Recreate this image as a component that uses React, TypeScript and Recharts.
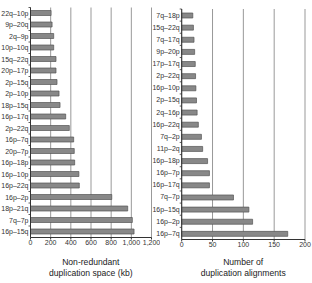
import React from 'react';
import { BarChart, Bar, XAxis, YAxis, CartesianGrid } from 'recharts';

const spaceCategories = [
  '22q–10p', '9p–20q', '2q–9p', '10p–10q', '15q–22q', '20p–17p', '2p–15q', '2p–10p',
  '18p–15q', '16p–17q', '2p–22q', '16p–7q', '20p–7p', '16p–18p', '16p–10p', '16p–22q',
  '16p–2p', '18p–21q', '7q–7p', '16p–15q',
];
const spaceValues = [
  204, 214, 230, 230, 253, 253, 263, 283, 293, 349, 385, 428, 434, 438, 480, 484, 806, 964, 1010, 1027,
];
const spaceTicks = [0, 200, 400, 600, 800, 1000, 1200];

const alignCategories = [
  '7q–18p', '15q–22q', '7q–17q', '9p–20p', '17p–17q', '2p–22q', '16p–10p', '2p–15q', '2q–16p',
  '16p–22q', '7q–2p', '11p–2q', '16p–18p', '16p–7p', '16p–17q', '7q–7p', '16p–15q', '16p–2p', '16p–7q',
];
const alignValues = [18, 19, 20, 21, 22, 22.5, 23, 24, 25, 27, 32, 34, 42, 45, 45, 84, 109, 115, 172];
const alignTicks = [0, 50, 100, 150, 200];

const spaceData = spaceCategories.map((name, i) => ({ name, value: spaceValues[i] }));
const alignData = alignCategories.map((name, i) => ({ name, value: alignValues[i] }));

const FONT = '"Liberation Sans", Arial, sans-serif';
const tickStyle = { fontSize: 7, fill: '#333', fontFamily: FONT };
const fmt = (v: number) => v.toLocaleString('en-US');

const CatTick = (props: any) => {
  const { x, y, payload } = props;
  const off = payload && typeof payload.offset === 'number' ? payload.offset : 5.75;
  const ax = x + 2;
  return (
    <g>
      <line x1={ax - 2} x2={ax} y1={y - off} y2={y - off} stroke="#333" strokeWidth={0.8} />
      <text x={x} y={y} dy="0.35em" textAnchor="end" fontSize={7} fill="#333" fontFamily={FONT}>
        {payload.value}
      </text>
    </g>
  );
};

export default function App() {
  return (
    <div style={{ position: 'absolute', left: 0, top: 0, width: 312, height: 283, background: '#fff' }}>
      <div style={{ position: 'absolute', left: 0, top: 0 }}>
        <BarChart
          width={160}
          height={250}
          layout="vertical"
          data={spaceData}
          margin={{ top: 7.5, right: 8.5, left: 0, bottom: 0 }}
        >
          <CartesianGrid horizontal={false} stroke="#999" strokeWidth={1} />
          <XAxis
            type="number"
            domain={[0, 1200]}
            ticks={spaceTicks}
            tickFormatter={fmt}
            height={12.5}
            tick={tickStyle}
            tickSize={2}
            tickMargin={1}
            stroke="#333"
            interval={0}
          />
          <YAxis
            type="category"
            dataKey="name"
            width={30.5}
            tick={<CatTick />}
            tickLine={false}
            tickSize={0}
            tickMargin={2}
            stroke="#333"
            interval={0}
          />
          <Bar dataKey="value" fill="#888" stroke="#555" strokeWidth={0.7} barSize={5} isAnimationActive={false} />
        </BarChart>
      </div>
      <div style={{ position: 'absolute', left: 152, top: 0 }}>
        <BarChart
          width={160}
          height={252}
          layout="vertical"
          data={alignData}
          margin={{ top: 9, right: 7, left: 0, bottom: 0 }}
        >
          <CartesianGrid horizontal={false} stroke="#999" strokeWidth={1} />
          <XAxis
            type="number"
            domain={[0, 200]}
            ticks={alignTicks}
            height={12.5}
            tick={tickStyle}
            tickSize={2}
            tickMargin={1}
            stroke="#333"
            interval={0}
          />
          <YAxis
            type="category"
            dataKey="name"
            width={29.7}
            tick={<CatTick />}
            tickLine={false}
            tickSize={0}
            tickMargin={2}
            stroke="#333"
            interval={0}
          />
          <Bar dataKey="value" fill="#888" stroke="#555" strokeWidth={0.7} barSize={5} isAnimationActive={false} />
        </BarChart>
      </div>
      <svg
        width={312}
        height={283}
        style={{ position: 'absolute', left: 0, top: 0, pointerEvents: 'none' }}
      >
        <g fontFamily={FONT} fontSize={8.6} fill="#222" textAnchor="middle">
          <text x={90.8} y={265.3}>Non-redundant</text>
          <text x={90.8} y={276.3}>duplication space (kb)</text>
          <text x={243.2} y={265.3}>Number of</text>
          <text x={243.2} y={276.3}>duplication alignments</text>
        </g>
      </svg>
    </div>
  );
}
